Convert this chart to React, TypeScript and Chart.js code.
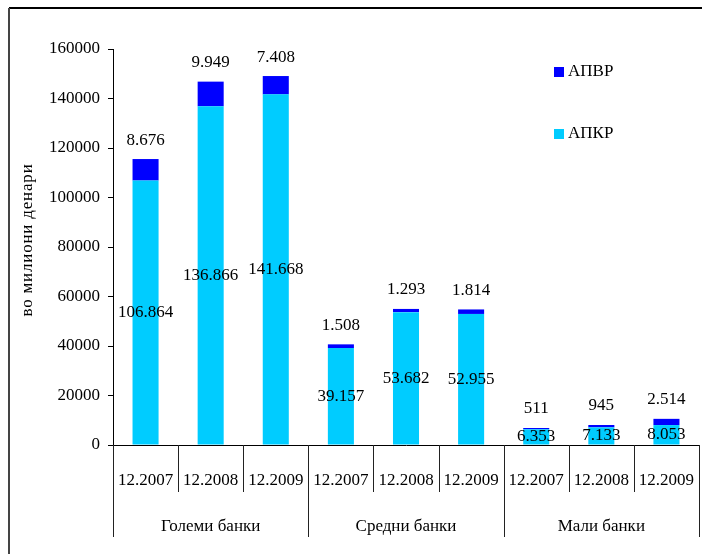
import React, { useEffect, useRef } from "react";
import { Chart, registerables } from "chart.js";

Chart.register(...registerables);

const categories = ["12.2007", "12.2008", "12.2009", "12.2007", "12.2008", "12.2009", "12.2007", "12.2008", "12.2009"];
const groups = ["Големи банки", "Средни банки", "Мали банки"];
const apkr = [106864, 136866, 141668, 39157, 53682, 52955, 6353, 7133, 8053];
const apvr = [8676, 9949, 7408, 1508, 1293, 1814, 511, 945, 2514];
const yTitle = "во милиони денари";
const seriesNames = ["АПКР", "АПВР"];
const seriesColors = ["#00CCFF", "#0000FF"];

const FONT = '"Liberation Serif", "Times New Roman", serif';
const FS = 17;

function fmt(v: number): string {
  const s = String(Math.round(v));
  return s.replace(/\B(?=(\d{3})+(?!\d))/g, ".");
}

const customPlugin = {
  id: "custom",
  afterDraw(chart: any) {
    const ctx = chart.ctx as CanvasRenderingContext2D;
    const area = chart.chartArea;
    const xs = chart.scales.x;
    ctx.save();
    // frame
    ctx.strokeStyle = "#000";
    ctx.lineWidth = 2;
    ctx.beginPath();
    ctx.moveTo(9, 8);
    ctx.lineTo(chart.width, 8);
    ctx.stroke();
    ctx.strokeStyle = "#444";
    ctx.beginPath();
    ctx.moveTo(9, 8);
    ctx.lineTo(9, chart.height);
    ctx.stroke();

    // x-axis separators & labels
    const n = categories.length;
    const step = (area.right - area.left) / n;
    ctx.lineWidth = 1;
    ctx.strokeStyle = "#222";
    for (let i = 0; i <= n; i++) {
      const x = Math.round(area.left + i * step) + 0.5;
      const isGroup = i % 3 === 0;
      ctx.beginPath();
      ctx.moveTo(x, area.bottom);
      ctx.lineTo(x, isGroup ? area.bottom + 92 : area.bottom + 47);
      ctx.stroke();
    }
    ctx.fillStyle = "#000";
    ctx.font = `${FS}px ${FONT}`;
    ctx.textAlign = "center";
    ctx.textBaseline = "middle";
    for (let i = 0; i < n; i++) {
      const x = xs.getPixelForValue(i);
      ctx.fillText(categories[i], x, area.bottom + 36);
    }
    for (let g = 0; g < groups.length; g++) {
      const x = (xs.getPixelForValue(g * 3) + xs.getPixelForValue(g * 3 + 2)) / 2;
      ctx.fillText(groups[g], x, area.bottom + 82);
    }

    // data labels
    const m0 = chart.getDatasetMeta(0);
    const m1 = chart.getDatasetMeta(1);
    m0.data.forEach((el: any, i: number) => {
      ctx.fillText(fmt(apkr[i]), el.x, (el.y + el.base) / 2);
    });
    m1.data.forEach((el: any, i: number) => {
      ctx.fillText(fmt(apvr[i]), el.x, el.y - 19);
    });

    // legend
    const legendItems = [
      { name: seriesNames[1], color: seriesColors[1], y: 72 },
      { name: seriesNames[0], color: seriesColors[0], y: 134 },
    ];
    ctx.textAlign = "left";
    legendItems.forEach((it) => {
      ctx.fillStyle = it.color;
      ctx.fillRect(554, it.y - 5, 10, 10);
      ctx.fillStyle = "#000";
      ctx.fillText(it.name, 568, it.y);
    });

    // y title
    ctx.save();
    ctx.translate(28, 240);
    ctx.rotate(-Math.PI / 2);
    ctx.textAlign = "center";
    ctx.font = `${FS}px ${FONT}`;
    try {
      (ctx as any).letterSpacing = "0.8px";
    } catch (e) {}
    ctx.fillText(yTitle, 0, 0);
    ctx.restore();

    ctx.restore();
  },
};

export default function App() {
  const ref = useRef<HTMLCanvasElement | null>(null);
  useEffect(() => {
    if (!ref.current) return;
    const chart = new Chart(ref.current, {
      type: "bar",
      data: {
        labels: categories,
        datasets: [
          { label: seriesNames[0], data: apkr, backgroundColor: seriesColors[0], barPercentage: 0.4, categoryPercentage: 1 },
          { label: seriesNames[1], data: apvr, backgroundColor: seriesColors[1], barPercentage: 0.4, categoryPercentage: 1 },
        ],
      },
      options: {
        responsive: false,
        animation: false,
        layout: { padding: { top: 49, right: 3, left: 0, bottom: 0 } },
        plugins: { legend: { display: false }, tooltip: { enabled: false } },
        scales: {
          x: {
            stacked: true,
            ticks: { display: false },
            grid: { display: false },
            border: { display: true, color: "#000", width: 1 },
            afterFit: (s: any) => {
              s.height = 554 - 445;
            },
          },
          y: {
            stacked: true,
            min: 0,
            max: 160000,
            ticks: {
              stepSize: 20000,
              color: "#000",
              font: { family: FONT, size: FS },
              padding: 8,
              callback: (v: any) => String(v),
            },
            grid: { drawOnChartArea: false, drawTicks: true, tickLength: 5, color: "#000" },
            border: { display: true, color: "#000", width: 1 },
            afterFit: (s: any) => {
              s.width = 113;
            },
          },
        },
      },
      plugins: [customPlugin],
    });
    return () => chart.destroy();
  }, []);
  return (
    <div style={{ position: "absolute", left: 0, top: 0, width: 702, height: 554, background: "#fff" }}>
      <canvas ref={ref} width={702} height={554} />
    </div>
  );
}
